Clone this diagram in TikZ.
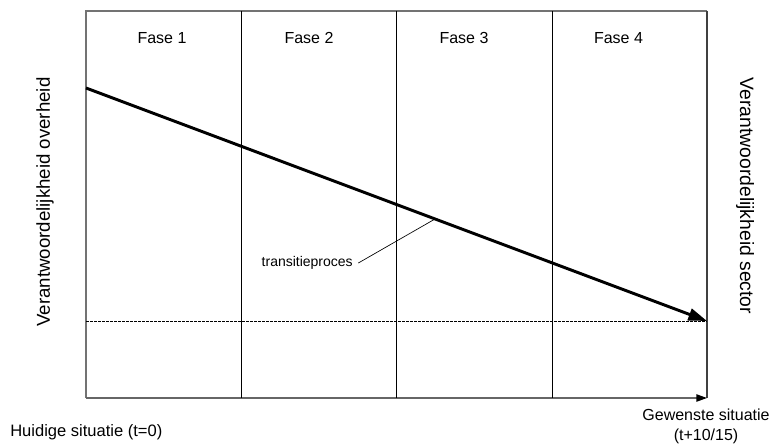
\documentclass[tikz,border=0pt]{standalone}
\usepackage{fontspec}
\setmainfont{Liberation Sans}
\usetikzlibrary{arrows.meta}
\begin{document}
\begin{tikzpicture}[x=0.75pt,y=-0.75pt,
  lbl/.style={inner sep=0pt,font=\fontsize{12}{15}\selectfont},
  sidelbl/.style={inner sep=0pt,font=\fontsize{14}{17}\selectfont},
  frame/.style={draw=black!55,line width=0.9pt},
  divider/.style={draw=black,line width=0.6pt},
  trend/.style={draw=black,line width=2.2pt,-{Triangle[length=14pt,width=9pt]}},
  axisarrow/.style={draw=black!60,line width=1pt,-{Triangle[length=8pt,width=5.5pt,color=black]}},
  leader/.style={draw=black,line width=0.5pt}]
\useasboundingbox (0,0) rectangle (773,445);
% coordinates
\coordinate (tl) at (86,11);
\coordinate (tr) at (707,11);
\coordinate (bl) at (86,398);
\coordinate (br) at (707,398);
\coordinate (d1t) at (241,11);
\coordinate (d1b) at (241,398);
\coordinate (d2t) at (396.5,11);
\coordinate (d2b) at (396.5,398);
\coordinate (d3t) at (552,11);
\coordinate (d3b) at (552,398);
\coordinate (start) at (86,88);
\coordinate (goal) at (707,321);
\coordinate (dl) at (86,321);
\coordinate (hit) at (435,219);
% frame
\draw[frame] (bl) -- (tl) -- (tr);
\draw[draw=black!75,line width=0.8pt] (tr) -- (br);
\draw[axisarrow] (bl) -- (br);
\draw[divider] (d1t) -- (d1b);
\draw[divider] (d2t) -- (d2b);
\draw[divider] (d3t) -- (d3b);
% dotted baseline
\draw[dash pattern=on 2pt off 1pt,line width=0.6pt] (dl) -- (goal);
% trend
\draw[trend] (start) -- (goal);
% phases
\node[lbl] (f1) at (162,38) {Fase 1};
\node[lbl] (f2) at (309,38) {Fase 2};
\node[lbl] (f3) at (464,38) {Fase 3};
\node[lbl] (f4) at (618.5,38) {Fase 4};
% transition label
\node[inner sep=0pt,font=\fontsize{10.5}{12}\selectfont,anchor=east] (tp) at (353,263) {transitieproces};
\draw[leader] ([xshift=4pt]tp.east) -- (hit);
% side labels
\node[sidelbl,rotate=90] (lo) at (45,202) {Verantwoordelijkheid overheid};
\node[sidelbl,rotate=-90,font=\fontsize{14.5}{17}\selectfont] (ls) at (745,196) {Verantwoordelijkheid sector};
% bottom labels
\node[lbl,anchor=west,font=\fontsize{12.4}{15}\selectfont] (now) at (10,432) {Huidige situatie (t=0)};
\node[lbl,align=center] (fut) at (706,426) {Gewenste situatie\\(t+10/15)};
\end{tikzpicture}
\end{document}
